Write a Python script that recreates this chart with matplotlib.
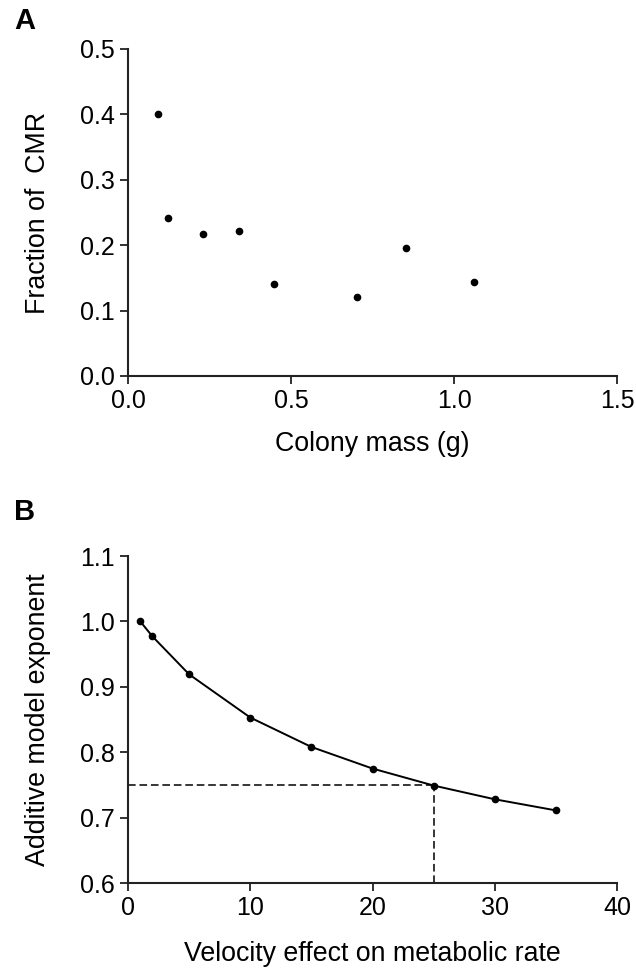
import matplotlib.pyplot as plt

plt.rcParams['font.family'] = ['Liberation Sans', 'DejaVu Sans']

# panel A: fraction of CMR vs colony mass
mass = [0.092, 0.124, 0.230, 0.340, 0.447, 0.702, 0.851, 1.061]
fraction = [0.401, 0.241, 0.217, 0.222, 0.141, 0.121, 0.196, 0.144]

# panel B: additive model exponent vs velocity effect
velocity = [1, 2, 5, 10, 15, 20, 25, 30, 35]
exponent = [1.000, 0.977, 0.919, 0.853, 0.808, 0.775, 0.749, 0.728, 0.711]

fig = plt.figure(figsize=(6.36, 9.68), dpi=100)
axA = fig.add_axes([0.2013, 0.6116, 0.769, 0.3378])
axB = fig.add_axes([0.2013, 0.0878, 0.769, 0.3378])

tfs = 18
lfs = 19.3


def style(ax):
    for s in ['top', 'right']:
        ax.spines[s].set_visible(False)
    for s in ['left', 'bottom']:
        ax.spines[s].set_linewidth(1.5)
        ax.spines[s].set_color('#222222')
    ax.tick_params(direction='out', length=6, width=1.3, labelsize=tfs, colors='#222222')
    ax.tick_params(labelcolor='black')


axA.plot(mass, fraction, 'o', color='black', markersize=4.5)
axA.set_xlim(0, 1.5)
axA.set_ylim(0, 0.5)
axA.set_xticks([0.0, 0.5, 1.0, 1.5])
axA.set_yticks([0.0, 0.1, 0.2, 0.3, 0.4, 0.5])
axA.set_xticklabels(['0.0', '0.5', '1.0', '1.5'])
axA.set_yticklabels(['0.0', '0.1', '0.2', '0.3', '0.4', '0.5'])
axA.set_xlabel('Colony mass (g)', fontsize=lfs, labelpad=13)
axA.set_ylabel('Fraction of  CMR', fontsize=lfs, labelpad=21)
style(axA)

axB.plot(velocity, exponent, '-o', color='black', markersize=4.5, linewidth=1.4)
axB.plot([0, 25], [0.75, 0.75], '--', color='black', linewidth=1.1, dashes=(5, 2.5))
axB.plot([25, 25], [0.6, 0.75], '--', color='black', linewidth=1.1, dashes=(5, 2.5))
axB.set_xlim(0, 40)
axB.set_ylim(0.6, 1.1)
axB.set_xticks([0, 10, 20, 30, 40])
axB.set_yticks([0.6, 0.7, 0.8, 0.9, 1.0, 1.1])
axB.set_yticklabels(['0.6', '0.7', '0.8', '0.9', '1.0', '1.1'])
axB.set_xlabel('Velocity effect on metabolic rate', fontsize=lfs, labelpad=15)
axB.set_ylabel('Additive model exponent', fontsize=lfs, labelpad=21)
style(axB)

fig.text(0.022, 0.978, 'A', fontsize=21, fontweight='bold', va='center')
fig.text(0.022, 0.471, 'B', fontsize=21, fontweight='bold', va='center')

fig.savefig('out.png', dpi=100)
